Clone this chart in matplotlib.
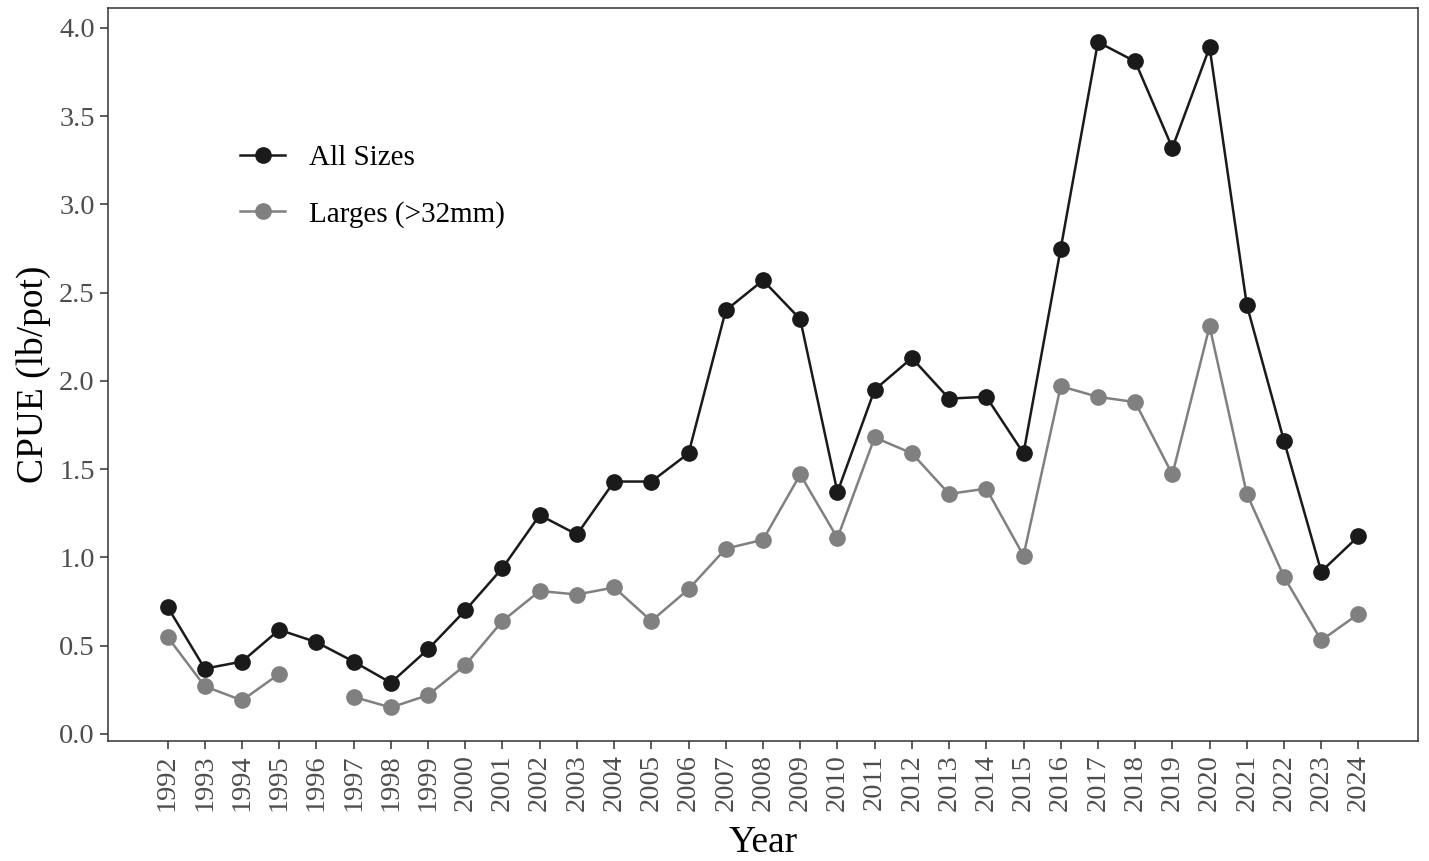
import matplotlib
matplotlib.use("Agg")
import matplotlib.pyplot as plt
import numpy as np

plt.rcParams['font.family'] = ['Liberation Serif', 'DejaVu Serif']

years = list(range(1992, 2025))

all_sizes = [0.72, 0.37, 0.41, 0.59, 0.52, 0.41, 0.29, 0.48, 0.70, 0.94,
             1.24, 1.13, 1.43, 1.43, 1.59, 2.40, 2.57, 2.35, 1.37, 1.95,
             2.13, 1.90, 1.91, 1.59, 2.75, 3.92, 3.81, 3.32, 3.89, 2.43,
             1.66, 0.92, 1.12]

larges = [0.55, 0.27, 0.19, 0.34, np.nan, 0.21, 0.15, 0.22, 0.39, 0.64,
          0.81, 0.79, 0.83, 0.64, 0.82, 1.05, 1.10, 1.47, 1.11, 1.68,
          1.59, 1.36, 1.39, 1.01, 1.97, 1.91, 1.88, 1.47, 2.31, 1.36,
          0.89, 0.53, 0.68]

fig = plt.figure(figsize=(14.29, 8.61), dpi=100)
ax = fig.add_axes([108/1429, 120/861, 1310/1429, 733/861])

ax.plot(years, all_sizes, color='#1a1a1a', lw=1.8, marker='o', ms=11,
        label='All Sizes')
ax.plot(years, larges, color='#808080', lw=1.8, marker='o', ms=11,
        label='Larges (>32mm)')

ax.set_xlim(1990.4, 2025.6)
ax.set_ylim(-0.04, 4.113)
ax.set_xticks(years)
ax.set_xticklabels([str(y) for y in years], rotation=90)
ax.set_yticks(np.arange(0, 4.01, 0.5))
ax.set_yticklabels([f'{v:.1f}' for v in np.arange(0, 4.01, 0.5)])

for s in ax.spines.values():
    s.set_color('#333333')
    s.set_linewidth(1.1)
ax.tick_params(colors='#333333', labelcolor='#4d4d4d', labelsize=20.5,
               length=6, width=1.1)

ax.set_xlabel('Year', fontsize=27, labelpad=10)
ax.set_ylabel('CPUE (lb/pot)', fontsize=27, labelpad=6)

leg = ax.legend(loc='upper left', bbox_to_anchor=(0.1008, 0.813), frameon=False,
                fontsize=21, handlelength=1.55, handletextpad=0.8,
                labelspacing=1.0, borderpad=0, borderaxespad=0)

fig.savefig('out.png', dpi=100)
